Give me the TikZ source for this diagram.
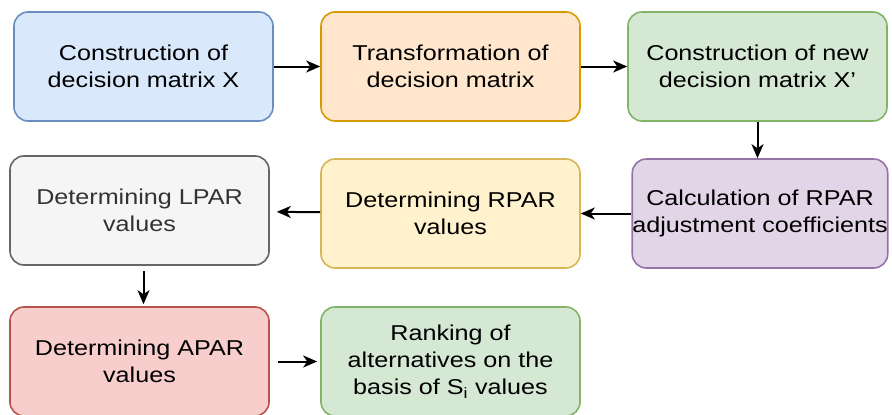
\documentclass[tikz,border=0pt]{standalone}
\usepackage{fontspec}
\setmainfont[FakeStretch=1.17]{Liberation Sans}
\usetikzlibrary{arrows.meta}
\definecolor{bluef}{HTML}{DAE8FC}\definecolor{blued}{HTML}{6C8EBF}
\definecolor{orangef}{HTML}{FFE6CC}\definecolor{oranged}{HTML}{D79B00}
\definecolor{greenf}{HTML}{D5E8D4}\definecolor{greend}{HTML}{82B366}
\definecolor{purplef}{HTML}{E1D5E7}\definecolor{purpled}{HTML}{9673A6}
\definecolor{yellowf}{HTML}{FFF2CC}\definecolor{yellowd}{HTML}{D6B656}
\definecolor{grayf}{HTML}{F5F5F5}\definecolor{grayd}{HTML}{666666}\definecolor{grayt}{HTML}{333333}
\definecolor{redf}{HTML}{F8CECC}\definecolor{redd}{HTML}{B85450}
\begin{document}
\begin{tikzpicture}[x=1pt,y=-1pt,
  box/.style={draw, line width=1.6pt, rounded corners=14pt, minimum width=259pt, minimum height=109pt,
    align=center, inner sep=0pt, font=\fontsize{21.5}{27}\selectfont},
  arr/.style={-{Stealth[length=14pt,width=12pt,inset=4pt]}, line width=2pt, black}]
\useasboundingbox (0,0) rectangle (892,415);
\node[box, fill=bluef, draw=blued] (a) at (143.5,66.5) {Construction of\\decision matrix X};
\node[box, fill=orangef, draw=oranged] (b) at (450.5,66.5) {Transformation of\\decision matrix};
\node[box, fill=greenf, draw=greend] (c) at (757.5,66.5) {Construction of new\\decision matrix X’};
\node[box, fill=purplef, draw=purpled, minimum width=254pt] (d) at (760,213.5) {Calculation of RPAR\\adjustment coefficients};
\node[box, fill=yellowf, draw=yellowd] (e) at (450.5,213.5) {Determining RPAR\\values};
\node[box, fill=grayf, draw=grayd, text=grayt] (f) at (139.5,210.5) {Determining LPAR\\values};
\node[box, fill=redf, draw=redd] (g) at (139.5,361.5) {Determining APAR\\values};
\node[box, fill=greenf, draw=greend] (h) at (450.5,361.5) {Ranking of\\alternatives on the\\basis of S\textsubscript{i} values};
\draw[arr] (a) -- (b);
\draw[arr] (b) -- (c);
\draw[arr] (c.south) -- (c.south |- d.north);
\draw[arr] (d.west |- e) -- (e.east);
\draw[arr, shorten >=7pt] (e) -- (f);
\draw[arr, shorten <=5pt, shorten >=2pt] ([xshift=4pt]f.south) -- ([xshift=4pt]f.south |- g.north);
\draw[arr, shorten <=8pt, shorten >=3pt] (g) -- (h);
\end{tikzpicture}
\end{document}
